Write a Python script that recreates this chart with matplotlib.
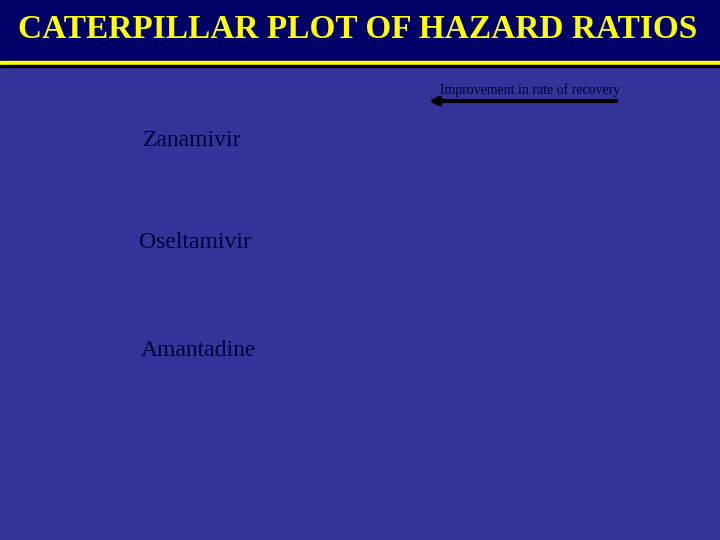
import matplotlib.pyplot as plt
from matplotlib.patches import Rectangle

# slide content
title = 'CATERPILLAR PLOT OF HAZARD RATIOS'
drugs = ['Zanamivir', 'Oseltamivir', 'Amantadine']
drug_y = [140, 242, 351]
drug_x = [192, 195, 198]
arrow_label = 'Improvement in rate of recovery'

fig = plt.figure(figsize=(7.2, 5.4), dpi=100)
fig.patch.set_facecolor('#333399')
ax = fig.add_axes([0, 0, 1, 1])
ax.set_xlim(0, 720)
ax.set_ylim(540, 0)
ax.axis('off')

# title band
ax.add_patch(Rectangle((0, 0), 720, 61, color='#000066', zorder=1))
ax.add_patch(Rectangle((0, 61), 720, 4, color='#ffff00', zorder=2))
ax.add_patch(Rectangle((0, 65), 720, 1.5, color='#000000', zorder=2))
ax.text(358, 30, title, color='#ffff00', fontsize=24, fontweight='bold',
        family='Liberation Serif', ha='center', va='center', zorder=3)

# drug labels
for name, x, y in zip(drugs, drug_x, drug_y):
    ax.text(x, y, name, color='#000033', fontsize=17,
            family='Liberation Serif', ha='center', va='center')

# arrow
ax.annotate('', xy=(426, 101), xytext=(619, 101),
            arrowprops=dict(arrowstyle='-|>', color='black', lw=3,
                            mutation_scale=12))
ax.text(530, 90, arrow_label, color='#000033', fontsize=10,
        family='Liberation Serif', ha='center', va='center')

fig.savefig('out.png', dpi=100, facecolor=fig.get_facecolor())
